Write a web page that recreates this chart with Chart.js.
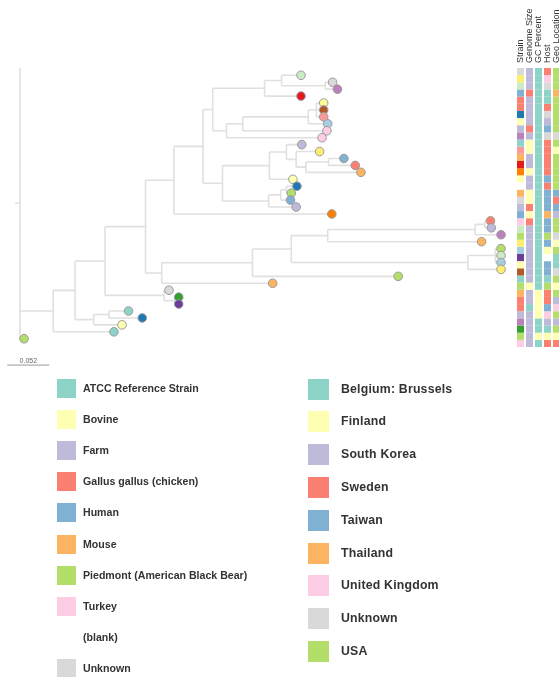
<!DOCTYPE html>
<html>
<head>
<meta charset="utf-8">
<script src="https://cdn.jsdelivr.net/npm/chart.js@4.4.1/dist/chart.umd.min.js"></script>
<style>
  html, body { margin:0; padding:0; background:#fff; overflow:hidden; }
  body { width:559px; height:677px; position:relative; font-family:"Liberation Sans", Arial, sans-serif; }
  #treeBox { position:absolute; left:0; top:0; width:515px; height:380px; }
  #heatBox { position:absolute; left:516px; top:0; width:45px; height:347px; }
  .leg { position:absolute; color:#333; font-weight:bold; white-space:nowrap; }
  .leg .sw { position:absolute; }
  .leg .tx { position:absolute; }
</style>
</head>
<body>
<div id="treeBox"><canvas id="treeChart" width="515" height="380"></canvas></div>
<div id="heatBox"><canvas id="heatChart" width="45" height="347"></canvas></div>
<div id="legendHost"></div>
<div id="legendGeo"></div>
<script>
// Phylogenetic tree + metadata columns
// Librerias: Chart.js

//---PALETTE (Set3 + Paired)
const palette = ['#8dd3c7','#ffffb3','#bebada','#fb8072','#80b1d3','#fdb462','#b3de69','#fccde5','#d9d9d9','#bc80bd','#ccebc5','#ffed6f',
                 '#a6cee3','#1f78b4','#b2df8a','#33a02c','#fb9a99','#e31a1c','#fdbf6f','#ff7f00','#cab2d6','#6a3d9a','#ffff99','#b15928','#ffffff'];

//---TREE DATA (tips top to bottom, depth = substitutions/site)
const tipDepth = [0.347,0.386,0.392,0.347,0.375,0.375,0.375,0.380,0.379,0.373,
                  0.348,0.370,0.400,0.414,0.421,0.337,0.342,0.335,0.334,0.341,
                  0.385,0.581,0.582,0.594,0.570,0.594,0.594,0.594,0.594,0.467,
                  0.312,0.184,0.196,0.196,0.134,0.151,0.126,0.116,0.005];
const tipColor = [10,8,9,17,22,23,16,12,7,7,
                  2,11,4,3,5,1,13,6,4,2,
                  19,3,2,9,5,6,10,12,11,6,
                  5,8,15,21,0,13,1,0,6];
// [node, depth, children]
const innerNodes = [
  ['n1',0,['top','n2','t39']],
  ['n2',0.041,['n3','t38']],
  ['n3',0.068,['n4','n5']],
  ['n4',0.105,['n7','n8']],
  ['n5',0.091,['n6','t37']],
  ['n6',0.110,['t35','t36']],
  ['n7',0.155,['n10','n11']],
  ['n8',0.178,['t32','n9']],
  ['n9',0.191,['t33','t34']],
  ['n10',0.190,['n19','t21']],
  ['n11',0.175,['n12','t31']],
  ['n12',0.287,['n13','t30']],
  ['n13',0.335,['n14','n15']],
  ['n14',0.380,['n16','t25']],
  ['n15',0.553,['n18','t29']],
  ['n16',0.562,['n17','t24']],
  ['n17',0.574,['t22','t23']],
  ['n18',0.587,['t26','t27','t28']],
  ['n19',0.226,['n20','n21']],
  ['n20',0.238,['n22','n23']],
  ['n21',0.250,['n29','n30']],
  ['n22',0.302,['n24','t4']],
  ['n23',0.255,['n26','t10']],
  ['n24',0.323,['t1','n25']],
  ['n25',0.377,['t2','t3']],
  ['n26',0.275,['n27','t9']],
  ['n27',0.356,['n28','t8']],
  ['n28',0.366,['t5','t6','t7']],
  ['n29',0.308,['n31','t16']],
  ['n30',0.307,['n35','t20']],
  ['n31',0.329,['t11','n32']],
  ['n32',0.341,['t12','n33']],
  ['n33',0.353,['n34','t15']],
  ['n34',0.381,['t13','t14']],
  ['n35',0.322,['n36','t19']],
  ['n36',0.329,['t17','t18']]
];
const rootTopRow = -1.1;
const rootStub = 0.006;
const scaleBarLength = 0.052;

//---METADATA COLUMNS
const heatColumns = ['Strain','Genome Size','GC Percent','Host','Geo Location'];
const strainCol = [8,11,10,4,3,3,13,1,2,9,
                   0,16,5,17,19,1,24,5,8,2,
                   4,7,10,6,11,12,21,1,23,0,
                   6,5,3,3,2,9,15,6,7];
const genomeCol = [2,2,2,3,2,2,2,2,3,2,
                   1,1,2,2,1,2,2,1,1,3,
                   1,3,2,2,2,2,2,2,2,2,
                   1,2,2,0,2,2,2,2,2];
const gcCol = [0,0,0,0,0,0,0,0,0,0,
               0,0,0,0,0,0,0,0,0,0,
               0,0,0,0,0,0,0,0,0,0,
               0,1,1,1,1,0,0,1,0];
const hostLegend = ['ATCC Reference Strain','Bovine','Farm','Gallus gallus  (chicken)','Human','Mouse','Piedmont (American Black Bear)','Turkey','(blank)','Unknown'];
const hostColors = ['#8dd3c7','#ffffb3','#bebada','#fb8072','#80b1d3','#fdb462','#b3de69','#fccde5','#ffffff','#d9d9d9'];
const hostCol = [3,7,9,0,0,3,9,2,4,9,
                 3,3,3,3,3,4,3,4,4,4,
                 5,4,4,6,4,1,8,4,4,0,
                 6,3,3,4,7,2,0,1,3];
const geoLegend = ['Belgium: Brussels','Finland','South Korea','Sweden','Taiwan','Thailand','United Kingdom','Unknown','USA'];
const geoColors = ['#8dd3c7','#ffffb3','#bebada','#fb8072','#80b1d3','#fdb462','#fccde5','#d9d9d9','#b3de69'];
const geoCol = [8,8,8,5,8,8,8,8,8,7,
                8,1,8,8,8,8,8,4,3,4,
                2,8,8,7,1,8,0,0,7,8,
                1,8,2,6,8,2,8,1,3];

//-----TREE LAYOUT
const rowOf = {}, depthOf = {}, kidsOf = {};
tipDepth.forEach((d, i) => { rowOf['t' + (i + 1)] = i; depthOf['t' + (i + 1)] = d; });
rowOf.top = rootTopRow; depthOf.top = 0;
innerNodes.forEach(n => { depthOf[n[0]] = n[1]; kidsOf[n[0]] = n[2]; });

function getRow(id){
  if (rowOf[id] === undefined){
    const k = kidsOf[id];
    rowOf[id] = (getRow(k[0]) + getRow(k[k.length - 1])) / 2;
  }
  return rowOf[id];
}

let branchPts = [];
innerNodes.forEach(n => {
  const id = n[0], d = n[1], kids = n[2];
  branchPts.push({x:d, y:getRow(kids[0])}, {x:d, y:getRow(kids[kids.length - 1])}, {x:null, y:null});
  kids.forEach(k => {
    branchPts.push({x:d, y:getRow(k)}, {x:depthOf[k], y:getRow(k)}, {x:null, y:null});
  });
});
branchPts.push({x:-rootStub, y:getRow('n1')}, {x:0, y:getRow('n1')});

const tipPts = tipDepth.map((d, i) => ({x:d, y:i}));

//-----SCALE BAR
const scaleBarPlugin = {
  id: 'scaleBar',
  afterDraw(chart){
    const ctx = chart.ctx, xs = chart.scales.x, ys = chart.scales.y;
    const x0 = xs.getPixelForValue(-0.0157), x1 = xs.getPixelForValue(-0.0157 + scaleBarLength);
    const y = ys.getPixelForValue(41.8);
    ctx.save();
    ctx.strokeStyle = '#999';
    ctx.lineWidth = 1;
    ctx.beginPath(); ctx.moveTo(x0, y); ctx.lineTo(x1, y); ctx.stroke();
    ctx.fillStyle = '#666';
    ctx.font = '7px "Liberation Sans", Arial, sans-serif';
    ctx.textAlign = 'center';
    ctx.textBaseline = 'bottom';
    ctx.fillText(String(scaleBarLength), (x0 + x1) / 2, y - 1);
    ctx.restore();
  }
};

let chart1 = new Chart(document.getElementById('treeChart').getContext('2d'), {
  type: 'scatter',
  data: {
    datasets: [
      { data: tipPts, backgroundColor: tipColor.map(c => palette[c]), borderColor: '#9a9a9a', borderWidth: 1,
        pointRadius: 4.3, clip: false },
      { type: 'line', data: branchPts, showLine: true, spanGaps: false, borderColor: '#e0e0e0', borderWidth: 1.6,
        pointRadius: 0, fill: false, tension: 0 }
    ]
  },
  plugins: [scaleBarPlugin],
  options: {
    responsive: false,
    animation: false,
    events: [],
    layout: { padding: 0 },
    plugins: { legend: { display: false }, tooltip: { enabled: false } },
    scales: {
      x: { type: 'linear', display: false, min: -0.01814, max: 0.6047 },
      y: { type: 'linear', display: false, reverse: true, min: -10.096, max: 43.188 }
    }
  }
});

//-----HEATMAP
const heatRows = strainCol.map((s, i) => ({
  data: [1, 1, 1, 1, 1],
  backgroundColor: [palette[s], palette[genomeCol[i]], palette[gcCol[i]], hostColors[hostCol[i]], geoColors[geoCol[i]]],
  borderWidth: 0,
  barPercentage: 0.78,
  categoryPercentage: 1
}));

const headerPlugin = {
  id: 'headers',
  afterDraw(chart){
    const ctx = chart.ctx, xs = chart.scales.x;
    ctx.save();
    ctx.fillStyle = '#333';
    ctx.font = '9px "Liberation Sans", Arial, sans-serif';
    ctx.textAlign = 'left';
    ctx.textBaseline = 'middle';
    heatColumns.forEach((lab, i) => {
      ctx.save();
      ctx.translate(xs.getPixelForValue(i), chart.chartArea.top - 5);
      ctx.rotate(-Math.PI / 2);
      ctx.fillText(lab, 0, 0);
      ctx.restore();
    });
    ctx.restore();
  }
};

let chart2 = new Chart(document.getElementById('heatChart').getContext('2d'), {
  type: 'bar',
  data: { labels: heatColumns, datasets: heatRows },
  plugins: [headerPlugin],
  options: {
    responsive: false,
    animation: false,
    events: [],
    layout: { padding: { top: 68 } },
    plugins: { legend: { display: false }, tooltip: { enabled: false } },
    scales: {
      x: { stacked: true, display: false },
      y: { stacked: true, display: false, reverse: true, min: 0, max: strainCol.length }
    }
  }
});

//-----LEGENDS
function drawLegend(id, names, colors, left, top, step, sw, textLeft, fontSize, spacing){
  const box = document.getElementById(id);
  names.forEach((name, i) => {
    const row = document.createElement('div');
    row.className = 'leg';
    row.style.left = left + 'px';
    row.style.top = (top + i * step) + 'px';
    const s = document.createElement('div');
    s.className = 'sw';
    s.style.left = '0px'; s.style.top = (-sw / 2) + 'px';
    s.style.width = sw + 'px'; s.style.height = sw + 'px';
    s.style.background = colors[i];
    const t = document.createElement('div');
    t.className = 'tx';
    t.style.left = textLeft + 'px';
    t.style.top = (-fontSize * 0.6) + 'px';
    t.style.fontSize = fontSize + 'px';
    t.style.letterSpacing = spacing + 'px';
    t.textContent = name;
    row.appendChild(s); row.appendChild(t);
    box.appendChild(row);
  });
}
drawLegend('legendHost', hostLegend, hostColors, 57, 388, 31.2, 19, 26, 10.6, 0);
drawLegend('legendGeo', geoLegend, geoColors, 308, 389, 32.8, 21, 33, 12.3, 0.2);
</script>
</body>
</html>
